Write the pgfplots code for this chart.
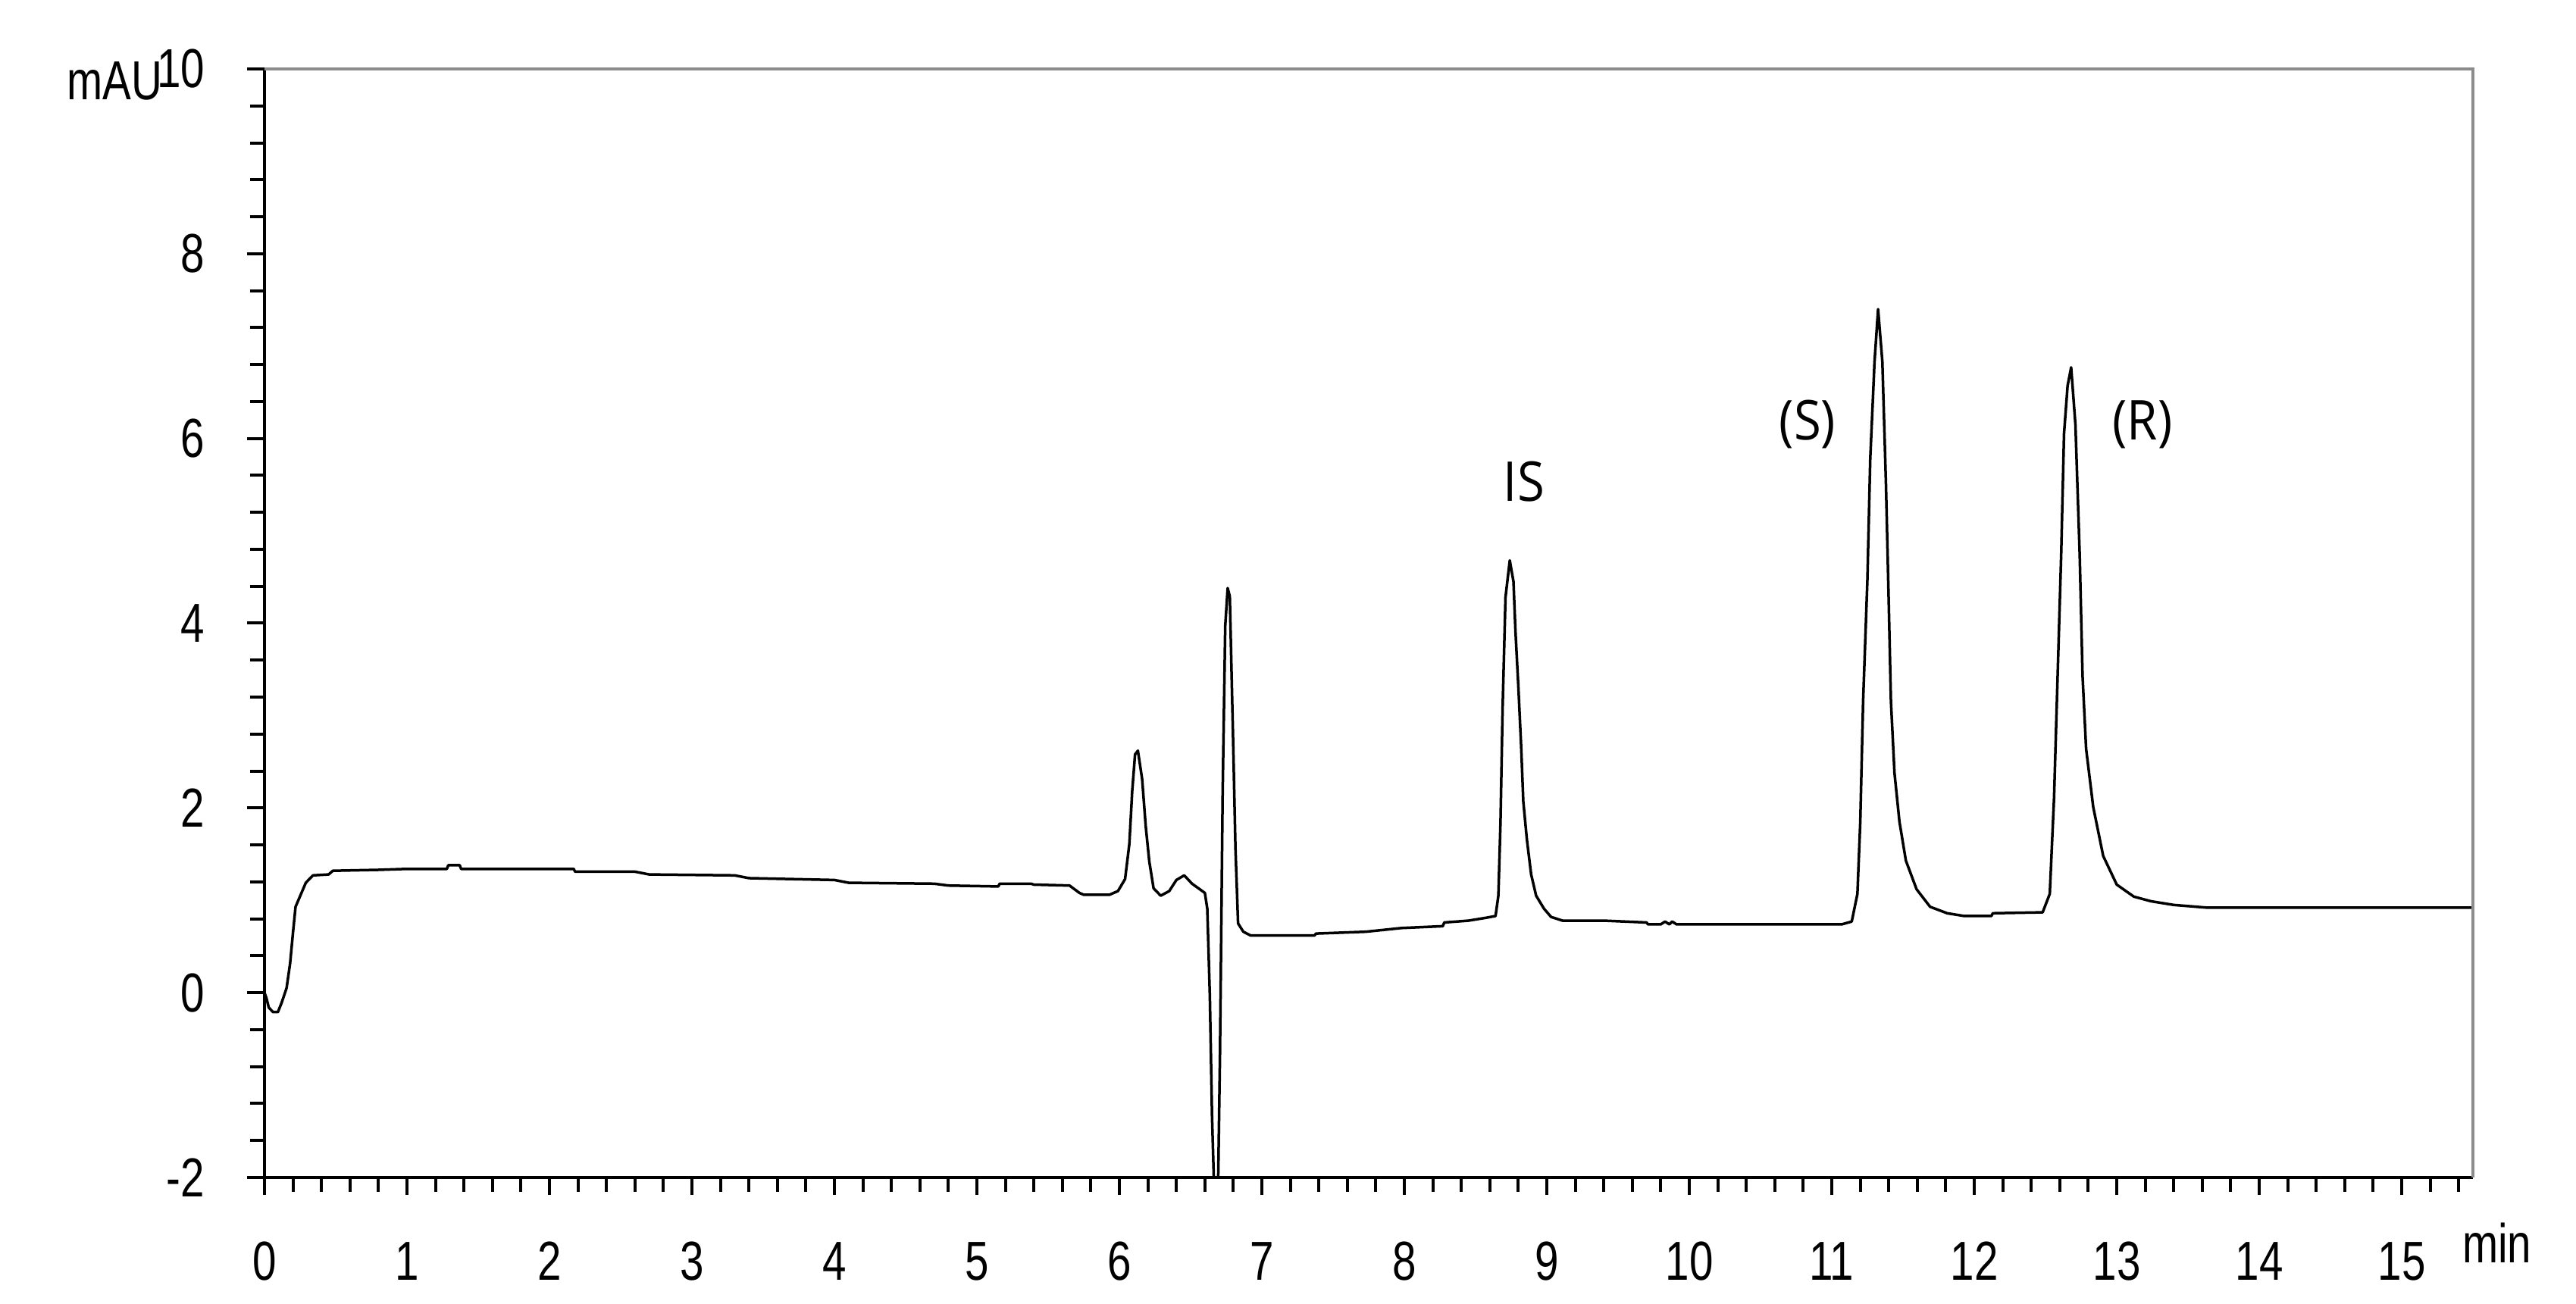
\documentclass[border=0pt]{standalone}
\usepackage{pgfplots}
\pgfplotsset{compat=1.18}
\usepackage{fontspec}
\setmainfont{Liberation Sans}
\newfontfamily\tickfont{Liberation Sans}[FakeStretch=0.78]
\newfontfamily\annfont{Open Sans}[FakeStretch=0.9]
\definecolor{framegray}{HTML}{8C8C8C}
\begin{document}
\begin{tikzpicture}
\begin{axis}[
  scale only axis, width=582.8pt, height=292.6pt,
  xmin=0, xmax=15.5, ymin=-2, ymax=10,
  axis x line*=bottom, axis y line*=left,
  axis line style={-, line width=0.8pt, black},
  xtick={0,1,...,15},
  xticklabels={0,1,2,3,4,5,6,7,8,9,10,11,12,13,14,15},
  minor xtick={0.2,0.4,...,15.45},
  ytick={-2,0,2,4,6,8,10},
  yticklabels={-2,0,2,4,6,8,10},
  minor ytick={-1.6,-1.2,...,9.9},
  tick align=outside,
  major tick length=4.6pt, minor tick length=3.8pt,
  tick style={line width=0.8pt, black},
  xticklabel style={font=\tickfont\fontsize{14.5}{16}\selectfont, inner sep=0pt, anchor=base, yshift=-22.6pt},
  yticklabel style={font=\tickfont\fontsize{14.5}{16}\selectfont, inner sep=0pt, anchor=east, xshift=-11pt},
  clip=true,
]
\addplot[black, line width=0.7pt, line join=round] coordinates {
(0,0) (0.014,-0.06) (0.03,-0.16) (0.06,-0.21) (0.094,-0.21) (0.12,-0.11)
(0.155,0.05) (0.18,0.32) (0.2,0.65) (0.218,0.93) (0.254,1.06) (0.29,1.19)
(0.34,1.27) (0.45,1.28) (0.48,1.32) (0.8,1.33) (1.0,1.34) (1.28,1.34)
(1.29,1.38) (1.37,1.38) (1.38,1.34) (2.17,1.34) (2.18,1.31) (2.6,1.31)
(2.7,1.28) (3.3,1.27) (3.4,1.24) (4.0,1.22) (4.1,1.19) (4.7,1.18)
(4.8,1.16) (5.15,1.15) (5.16,1.18) (5.38,1.18) (5.4,1.17) (5.65,1.16)
(5.72,1.08) (5.75,1.06) (5.93,1.06) (5.99,1.10) (6.04,1.23) (6.07,1.61)
(6.09,2.18) (6.11,2.58) (6.13,2.62) (6.16,2.31) (6.185,1.80) (6.21,1.42)
(6.24,1.13) (6.29,1.05) (6.35,1.10) (6.40,1.22) (6.455,1.27) (6.51,1.18)
(6.6,1.08) (6.617,0.91) (6.635,-0.04) (6.65,-1.32) (6.67,-2.4) (6.69,-2.4)
(6.706,-0.68) (6.725,2.18) (6.743,3.97) (6.76,4.38) (6.775,4.29) (6.797,2.82)
(6.815,1.55) (6.833,0.75) (6.87,0.66) (6.92,0.62) (7.37,0.62) (7.38,0.64)
(7.73,0.66) (7.98,0.70) (8.27,0.72) (8.28,0.76) (8.45,0.78) (8.57,0.81)
(8.64,0.83) (8.66,1.05) (8.675,1.85) (8.69,3.1) (8.71,4.28) (8.74,4.68)
(8.766,4.45) (8.78,3.91) (8.80,3.32) (8.82,2.66) (8.835,2.07) (8.86,1.66)
(8.89,1.28) (8.925,1.05) (8.98,0.91) (9.03,0.82) (9.11,0.78) (9.4,0.78)
(9.70,0.76) (9.71,0.74) (9.8,0.74) (9.83,0.77) (9.86,0.74) (9.88,0.77)
(9.91,0.74) (10.4,0.74) (11.07,0.74) (11.14,0.77) (11.18,1.07) (11.20,1.85)
(11.22,3.16) (11.25,4.47) (11.27,5.78) (11.30,6.83) (11.325,7.40) (11.355,6.83)
(11.38,5.52) (11.40,4.21) (11.415,3.16) (11.44,2.38) (11.475,1.85) (11.52,1.43)
(11.595,1.12) (11.69,0.93) (11.81,0.86) (11.93,0.83) (12.12,0.83) (12.13,0.86)
(12.48,0.87) (12.53,1.07) (12.56,2.11) (12.585,3.43) (12.61,4.74) (12.63,6.05)
(12.655,6.57) (12.68,6.77) (12.71,6.15) (12.74,4.74) (12.76,3.43) (12.785,2.64)
(12.835,2.01) (12.905,1.48) (13.00,1.17) (13.12,1.04) (13.24,0.99) (13.40,0.95)
(13.64,0.92) (14.1,0.92) (15.5,0.92)
};
\node[font=\annfont\fontsize{14.5}{16}\selectfont, inner sep=0pt] at (axis cs:8.84,5.53) {IS};
\node[font=\annfont\fontsize{14.5}{16}\selectfont, inner sep=0pt] at (axis cs:10.83,6.15) {(S)};
\node[font=\annfont\fontsize{14.5}{16}\selectfont, inner sep=0pt] at (axis cs:13.18,6.15) {(R)};
\coordinate (bl) at (rel axis cs:0,0);
\coordinate (tl) at (rel axis cs:0,1);
\coordinate (tr) at (rel axis cs:1,1);
\coordinate (br) at (rel axis cs:1,0);
\end{axis}
\draw[framegray, line width=0.7pt] (tl) -- (tr) -- (br);
\node[font=\tickfont\fontsize{14.5}{16}\selectfont, inner sep=0pt, anchor=base east] at ([xshift=-26.8pt, yshift=-8.2pt]tl) {mAU};
\node[font=\tickfont\fontsize{14.5}{16}\selectfont, inner sep=0pt, anchor=base west] at ([xshift=-3pt, yshift=-22.6pt]br) {min};
\pgfresetboundingbox
\path[use as bounding box] ([xshift=-69.8pt, yshift=-33.4pt]bl) rectangle ([xshift=27.2pt, yshift=18.2pt]tr);
\end{tikzpicture}
\end{document}
